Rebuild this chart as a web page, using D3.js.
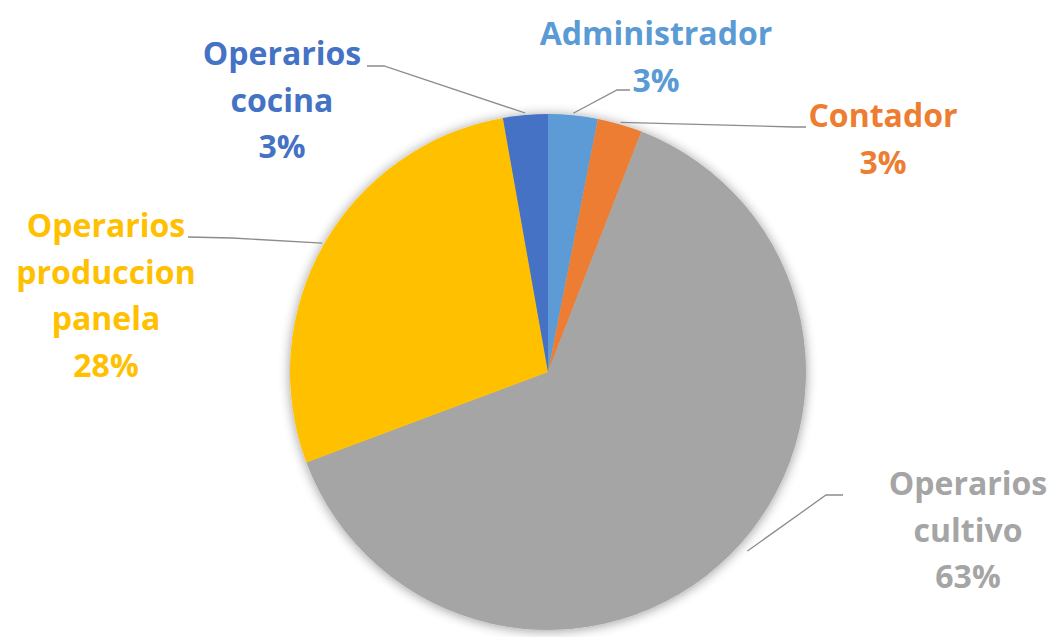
<!DOCTYPE html>
<html><head><meta charset="utf-8">
<script src="https://cdn.jsdelivr.net/npm/d3@7"></script>
<style>html,body{margin:0;padding:0;background:#fff;}</style>
</head><body>
<svg id="chart" width="1052" height="637"></svg>
<script>
// ---- data ----
const categories = ["Administrador", "Contador", "Operarios cultivo", "Operarios produccion panela", "Operarios cocina"];
const labelLines = [["Administrador"], ["Contador"], ["Operarios", "cultivo"], ["Operarios", "produccion", "panela"], ["Operarios", "cocina"]];
const values = [3.1, 2.8, 63.4, 27.9, 2.8];
const colors = ["#5B9BD5", "#ED7D31", "#A5A5A5", "#FFC000", "#4472C4"];

// ---- layout ----
const W = 1052, H = 637;
const cx = 548, cy = 372, R = 258;
const labelPos = [
  {x: 656, y: 45, end: [630, 90], elbow: [617, 90], gap: 2, shift: 0},
  {x: 883, y: 127, end: [806, 127], elbow: [794, 127], gap: 2, shift: 0},
  {x: 968, y: 495, end: [843, 495], elbow: [826, 495], gap: 10, shift: -0.06},
  {x: 106, y: 237, end: [188, 237], elbow: [232, 238], gap: 2, shift: 0},
  {x: 282, y: 65, end: [367, 66], elbow: [384, 66], gap: 2, shift: 0}
];
const lineH = 46.5;

const svg = d3.select("#chart");
const defs = svg.append("defs");
const f = defs.append("filter").attr("id", "glow").attr("x", "-20%").attr("y", "-20%").attr("width", "140%").attr("height", "140%");
f.append("feGaussianBlur").attr("in", "SourceAlpha").attr("stdDeviation", 6).attr("result", "b");
f.append("feOffset").attr("in", "b").attr("dx", 0).attr("dy", 1).attr("result", "o");
f.append("feComponentTransfer").attr("in", "o").attr("result", "s")
  .append("feFuncA").attr("type", "linear").attr("slope", 0.4);
const m = f.append("feMerge");
m.append("feMergeNode").attr("in", "s");
m.append("feMergeNode").attr("in", "SourceGraphic");

const pie = d3.pie().sort(null).value(d => d)(values);
const arc = d3.arc().innerRadius(0).outerRadius(R);

const g = svg.append("g").attr("transform", `translate(${cx},${cy})`);
g.append("g").attr("filter", "url(#glow)")
  .selectAll("path").data(pie).join("path")
  .attr("d", arc).attr("fill", (d, i) => colors[i]);

// leader lines
const total = d3.sum(values);
svg.append("g").selectAll("path").data(pie).join("path")
  .attr("fill", "none").attr("stroke", "#8c8c8c").attr("stroke-width", 1.3)
  .attr("d", (d, i) => {
    const a = (d.startAngle + d.endAngle) / 2 + labelPos[i].shift;
    const r = R + labelPos[i].gap;
    const sx = cx + r * Math.sin(a), sy = cy - r * Math.cos(a);
    const p = d3.path();
    p.moveTo(sx, sy);
    p.lineTo(labelPos[i].elbow[0], labelPos[i].elbow[1]);
    p.lineTo(labelPos[i].end[0], labelPos[i].end[1]);
    return p.toString();
  });

// labels
const fmt = v => Math.round(v / total * 100) + "%";
const lab = svg.append("g").attr("font-family", "'Open Sans', sans-serif")
  .attr("font-weight", 700).attr("font-size", 32).attr("text-anchor", "middle");
pie.forEach((d, i) => {
  const t = lab.append("text").attr("fill", colors[i]);
  const lines = labelLines[i].concat([fmt(values[i])]);
  lines.forEach((s, k) => {
    t.append("tspan").attr("x", labelPos[i].x).attr("y", labelPos[i].y + k * lineH).text(s);
  });
});
</script>
</body></html>
